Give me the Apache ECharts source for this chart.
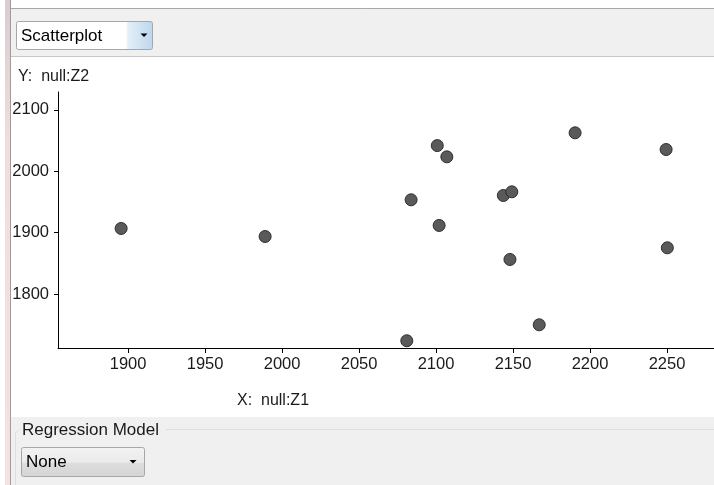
<!DOCTYPE html>
<html>
<head>
<meta charset="utf-8">
<script src="https://cdn.jsdelivr.net/npm/echarts@6/dist/echarts.min.js"></script>
<style>
  html, body { margin: 0; padding: 0; background: #ffffff; }
  #chart { width: 714px; height: 485px; }
</style>
</head>
<body>
<div id="chart"></div>
<script>
// Observations: Z1 (x) and Z2 (y)
const z1Values = [1895.5, 1989, 2081, 2083.8, 2100.8, 2102, 2107, 2143.7, 2148, 2149.2, 2167, 2190.3, 2249.4, 2250.2];
const z2Values = [1906.7, 1893.6, 1723.8, 1953.4, 2041.7, 1911.6, 2023.4, 1960.4, 1856.2, 1966.4, 1749.8, 2062.5, 2035.3, 1875.2];

// Tick positions shown on each axis
const xTicks = [1900, 1950, 2000, 2050, 2100, 2150, 2200, 2250];
const yTicks = [1800, 1900, 2000, 2100];

// Visible ranges of the plot
const xRange = [1854.5, 2280.5];
const yRange = [1712, 2129];

const xTitle = 'X:  null:Z1';
const yTitle = 'Y:  null:Z2';
const plotTypeLabel = 'Scatterplot';
const regressionTitle = 'Regression Model';
const regressionChoice = 'None';

const points = z1Values.map((x, i) => [x, z2Values[i]]);

const FONT = '"Liberation Sans", Arial, sans-serif';
const TEXT = '#1a1a1a';

function dropdown(x, y, w, h, label, fill, arrowX) {
  return {
    type: 'group',
    children: [
      { type: 'rect', shape: { x: x + 0.5, y: y + 0.5, width: w, height: h, r: 2 },
        style: { fill: fill, stroke: '#a7a7a7', lineWidth: 1 } },
      { type: 'text', style: { x: x + 5, y: y + h / 2 + 1, text: label, font: '17px ' + FONT,
        fill: '#000', verticalAlign: 'middle' } },
      { type: 'polygon', shape: { points: [[arrowX - 3.5, y + h / 2 - 1.5], [arrowX + 3.5, y + h / 2 - 1.5], [arrowX, y + h / 2 + 2]] },
        style: { fill: '#000' } }
    ]
  };
}

const plainNumber = (v) => String(v);

const chart = echarts.init(document.getElementById('chart'), null, { renderer: 'canvas' });

chart.setOption({
  animation: false,
  backgroundColor: '#ffffff',
  grid: { left: 58, right: 0, top: 92, bottom: 137, containLabel: false },
  xAxis: {
    type: 'value',
    min: xRange[0],
    max: xRange[1],
    axisLine: { show: true, onZero: false, lineStyle: { color: '#000', width: 1 } },
    axisTick: { show: true, length: 5, customValues: xTicks, lineStyle: { color: '#000' } },
    axisLabel: { customValues: xTicks, formatter: plainNumber, color: TEXT, fontSize: 16.5, fontFamily: FONT, margin: 8 },
    splitLine: { show: false }
  },
  yAxis: {
    type: 'value',
    min: yRange[0],
    max: yRange[1],
    axisLine: { show: true, onZero: false, lineStyle: { color: '#000', width: 1 } },
    axisTick: { show: true, length: 4, customValues: yTicks, lineStyle: { color: '#000' } },
    axisLabel: { customValues: yTicks, formatter: plainNumber, color: TEXT, fontSize: 16.5, fontFamily: FONT, margin: 9 },
    splitLine: { show: false }
  },
  series: [{
    type: 'scatter',
    data: points,
    symbol: 'circle',
    symbolSize: 12,
    itemStyle: { color: '#5a5a5a', borderColor: '#2e2e2e', borderWidth: 1, opacity: 1 },
    silent: true
  }],
  graphic: [
    // left window edge
    { type: 'rect', shape: { x: 5, y: 0, width: 5, height: 485 },
      style: { fill: new echarts.graphic.LinearGradient(0, 0, 0, 1, [
        { offset: 0, color: '#d8cdd0' }, { offset: 0.3, color: '#f2dddd' }, { offset: 1, color: '#f5e1e1' }]) } },
    { type: 'line', shape: { x1: 10.5, y1: 0, x2: 10.5, y2: 485 }, style: { stroke: '#a39b9b', lineWidth: 1 } },
    // top toolbar
    { type: 'rect', shape: { x: 11, y: 8, width: 703, height: 49 }, style: { fill: '#f0f0f0' } },
    { type: 'line', shape: { x1: 11, y1: 8.5, x2: 714, y2: 8.5 }, style: { stroke: '#a8a8a8', lineWidth: 1 } },
    { type: 'line', shape: { x1: 11, y1: 56.5, x2: 714, y2: 56.5 }, style: { stroke: '#c6c6c6', lineWidth: 1 } },
    dropdown(16, 21, 136, 28, plotTypeLabel,
      new echarts.graphic.LinearGradient(0, 0, 1, 0, [
        { offset: 0, color: '#ffffff' }, { offset: 0.8, color: '#ffffff' },
        { offset: 0.82, color: '#e3eef8' }, { offset: 1, color: '#bcd6ee' }]), 144),
    // axis titles
    { type: 'text', style: { x: 18, y: 77, text: yTitle, font: '16px ' + FONT, fill: TEXT, verticalAlign: 'middle' } },
    { type: 'text', style: { x: 237, y: 401, text: xTitle, font: '16px ' + FONT, fill: TEXT, verticalAlign: 'middle' } },
    // regression panel
    { type: 'rect', shape: { x: 11, y: 417, width: 703, height: 68 }, style: { fill: '#f0f0f0' } },
    { type: 'polyline', shape: { points: [[15.5, 485], [15.5, 433], [19, 429.5], [714, 429.5]] },
      style: { stroke: '#d5dfe5', lineWidth: 1, fill: null } },
    { type: 'rect', shape: { x: 20, y: 421, width: 146, height: 18 }, style: { fill: '#f0f0f0' } },
    { type: 'text', style: { x: 22, y: 430, text: regressionTitle, font: '17px ' + FONT, fill: TEXT, verticalAlign: 'middle' } },
    dropdown(21, 447, 123, 29, regressionChoice,
      new echarts.graphic.LinearGradient(0, 0, 0, 1, [
        { offset: 0, color: '#f2f2f2' }, { offset: 0.5, color: '#ebebeb' },
        { offset: 0.55, color: '#dddddd' }, { offset: 1, color: '#d4d4d4' }]), 133)
  ]
});
</script>
</body>
</html>
